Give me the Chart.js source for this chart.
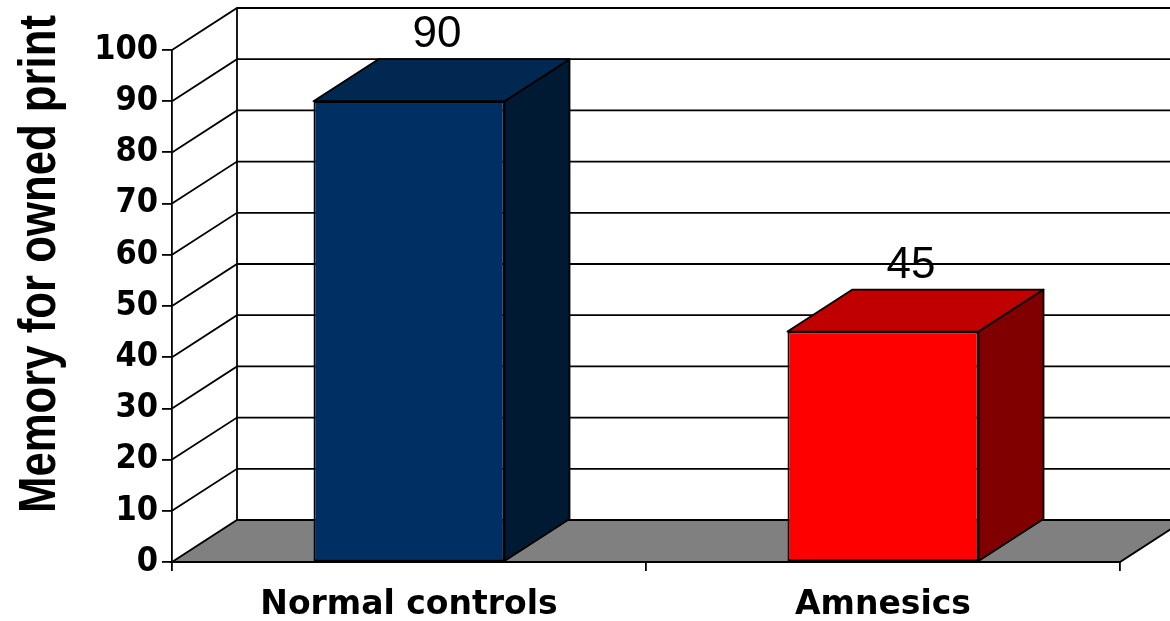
<!DOCTYPE html>
<html>
<head>
<meta charset="utf-8">
<script src="https://cdn.jsdelivr.net/npm/chart.js@4.4.1/dist/chart.umd.min.js"></script>
<style>
  html, body { margin: 0; padding: 0; background: #ffffff; }
  #wrap { width: 1170px; height: 621px; }
</style>
</head>
<body>
<div id="wrap"><canvas id="memoryChart"></canvas></div>
<script>
// data
var categories = ["Normal controls", "Amnesics"];
var memoryScores = [90, 45];
var yTicks = [0, 10, 20, 30, 40, 50, 60, 70, 80, 90, 100];
var yTitle = "Memory for owned print";

// colours for the 3d faces
var frontColors = ["#003063", "#ff0000"];
var topColors = ["#002851", "#c00000"];
var sideColors = ["#001a33", "#800000"];

// depth of the fake 3d box
var DX = 65;
var DY = -42;

var threeD = {
  id: "threeD",
  beforeDatasetsDraw: function (chart) {
    var ctx = chart.ctx;
    var area = chart.chartArea;
    var y = chart.scales.y;
    var w = chart.width;
    var y0 = y.getPixelForValue(yTicks[0]);
    var yTop = y.getPixelForValue(yTicks[yTicks.length - 1]);

    ctx.save();
    ctx.lineWidth = 1.8;
    ctx.strokeStyle = "#000";

    // floor
    ctx.beginPath();
    ctx.moveTo(area.left, y0);
    ctx.lineTo(area.left + DX, y0 + DY);
    ctx.lineTo(area.right + DX, y0 + DY);
    ctx.lineTo(area.right, y0);
    ctx.closePath();
    ctx.fillStyle = "#808080";
    ctx.fill();
    ctx.stroke();

    // back wall left edge
    ctx.beginPath();
    ctx.moveTo(area.left + DX, y0 + DY);
    ctx.lineTo(area.left + DX, yTop + DY);
    ctx.stroke();

    // gridlines: side wall diagonal then across the back wall
    yTicks.forEach(function (v) {
      if (v === 0) return;
      var py = y.getPixelForValue(v);
      ctx.beginPath();
      ctx.moveTo(area.left, py);
      ctx.lineTo(area.left + DX, py + DY);
      ctx.lineTo(w, py + DY);
      ctx.stroke();
    });
    ctx.restore();
  },
  afterDatasetsDraw: function (chart) {
    var ctx = chart.ctx;
    var meta = chart.getDatasetMeta(0);
    ctx.save();
    ctx.lineWidth = 1.8;
    ctx.strokeStyle = "#000";
    ctx.lineJoin = "round";
    meta.data.forEach(function (bar, i) {
      var left = bar.x - bar.width / 2;
      var right = bar.x + bar.width / 2;
      var top = bar.y;
      var base = bar.base;

      // side face
      ctx.beginPath();
      ctx.moveTo(right, top);
      ctx.lineTo(right + DX, top + DY);
      ctx.lineTo(right + DX, base + DY);
      ctx.lineTo(right, base);
      ctx.closePath();
      ctx.fillStyle = sideColors[i];
      ctx.fill();
      ctx.stroke();

      // top face
      ctx.beginPath();
      ctx.moveTo(left, top);
      ctx.lineTo(left + DX, top + DY);
      ctx.lineTo(right + DX, top + DY);
      ctx.lineTo(right, top);
      ctx.closePath();
      ctx.fillStyle = topColors[i];
      ctx.fill();
      ctx.stroke();

      // value label
      ctx.fillStyle = "#000";
      ctx.font = "44px 'Liberation Sans', Arial, sans-serif";
      ctx.textAlign = "center";
      ctx.textBaseline = "alphabetic";
      ctx.fillText(String(memoryScores[i]), bar.x + 28, top - 54);
    });
    ctx.restore();
  },
  afterDraw: function (chart) {
    // y axis title, centred on the back wall
    var ctx = chart.ctx;
    var y = chart.scales.y;
    var mid = (y.getPixelForValue(yTicks[0]) + y.getPixelForValue(yTicks[yTicks.length - 1])) / 2 + DY;
    ctx.save();
    ctx.translate(55, mid);
    ctx.rotate(-Math.PI / 2);
    ctx.fillStyle = "#000";
    ctx.font = "bold 51px 'Liberation Sans', Arial, sans-serif";
    ctx.textAlign = "center";
    ctx.textBaseline = "alphabetic";
    ctx.fillText(yTitle, 0, 0, 498);
    ctx.restore();
  }
};

var ctx = document.getElementById("memoryChart").getContext("2d");
var memoryChart = new Chart(ctx, {
  type: "bar",
  data: {
    labels: categories,
    datasets: [
      {
        label: yTitle,
        data: memoryScores,
        backgroundColor: frontColors,
        borderColor: "#000",
        borderWidth: 1.8,
        borderSkipped: false,
        categoryPercentage: 1,
        barPercentage: 0.403,
      },
    ],
  },
  options: {
    responsive: true,
    maintainAspectRatio: false,
    animation: false,
    layout: {
      padding: { top: 50, right: 50, left: 0, bottom: 0 },
    },
    plugins: {
      legend: { display: false },
      tooltip: { enabled: false },
    },
    scales: {
      x: {
        grid: {
          offset: true,
          drawOnChartArea: false,
          tickLength: 9,
          color: "#000",
          lineWidth: 1.8,
        },
        border: { display: true, color: "#000", width: 1.8 },
        ticks: {
          color: "#000",
          padding: 15,
          font: { family: "'DejaVu Sans', sans-serif", weight: "bold", size: 33 },
        },
        afterFit: function (scale) {
          scale.height = 59;
        },
      },
      y: {
        min: yTicks[0],
        max: yTicks[yTicks.length - 1],
        afterBuildTicks: function (axis) {
          axis.ticks = yTicks.map(function (v) {
            return { value: v };
          });
        },
        grid: {
          drawOnChartArea: false,
          tickLength: 10,
          color: "#000",
          lineWidth: 1.8,
        },
        border: { display: true, color: "#000", width: 1.8 },
        ticks: {
          color: "#000",
          padding: 4,
          font: { family: "'DejaVu Sans Condensed', 'DejaVu Sans', sans-serif", weight: "bold", size: 34 },
        },
        title: { display: false },
        afterFit: function (scale) {
          scale.width = 172;
        },
      },
    },
  },
  plugins: [threeD],
});
</script>
</body>
</html>
